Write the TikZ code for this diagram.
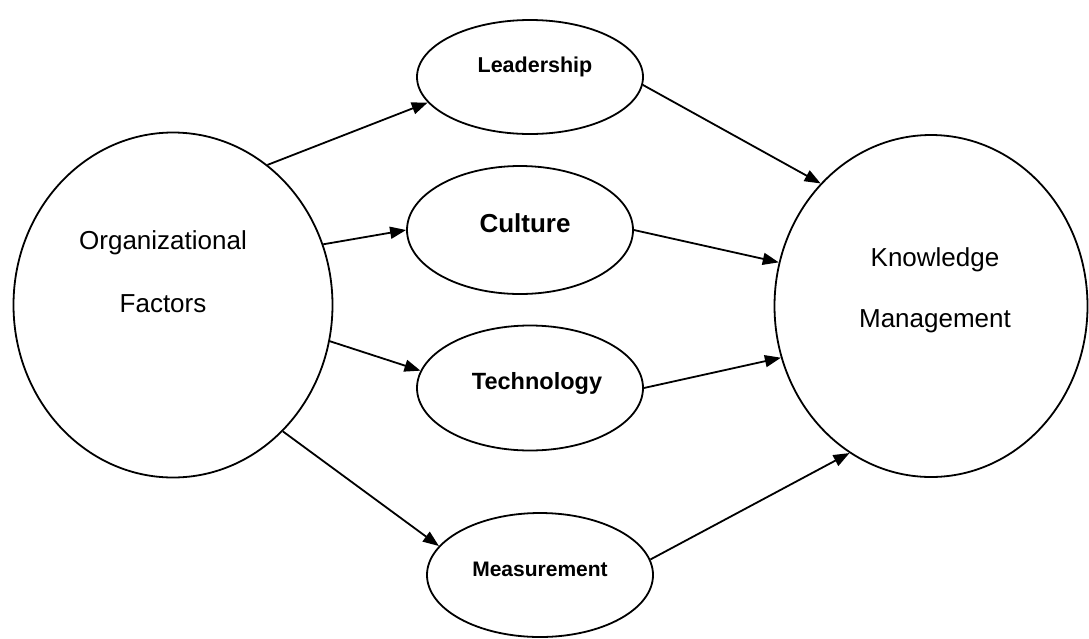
\documentclass[tikz,border=0pt]{standalone}
\usepackage{fontspec}
\setmainfont{Liberation Sans}
\usetikzlibrary{shapes.geometric,arrows.meta}

\begin{document}
\begin{tikzpicture}[x=1pt,y=-1pt,
  bubble/.style={draw,ellipse,line width=1.8pt,inner sep=0pt},
  link/.style={line width=1.8pt,-{Triangle[length=16pt,width=12pt]}},
  bigtxt/.style={anchor=base,font=\fontsize{26}{31}\selectfont},
  smalltxt/.style={anchor=base,font=\bfseries\fontsize{#1}{#1}\selectfont}]
\useasboundingbox (0,0) rectangle (1089,638);

% the two big ones
\node[bubble,minimum width=319pt,minimum height=345pt] (org) at (173,305) {};
\node[bubble,minimum width=313pt,minimum height=342pt] (km) at (931,306) {};
\node[bigtxt] (orgtop) at (163,249) {Organizational};
\node[bigtxt] (orgbot) at (163,312) {Factors};
\node[bigtxt] (kmtop) at (935,266) {Knowledge};
\node[bigtxt] (kmbot) at (935,327) {Management};

% the four in the middle
\node[bubble,minimum width=226pt,minimum height=114pt] (lead) at (530,77) {};
\node[bubble,minimum width=226pt,minimum height=128pt] (cult) at (520,230) {};
\node[bubble,minimum width=226pt,minimum height=125pt] (tech) at (530,388) {};
\node[bubble,minimum width=226pt,minimum height=124pt] (meas) at (540,575) {};
\node[smalltxt=21.5] (leadtxt) at (535,72) {Leadership};
\node[smalltxt=26] (culttxt) at (525,232) {Culture};
\node[smalltxt=23.5] (techtxt) at (537,389) {Technology};
\node[smalltxt=21] (meastxt) at (540,576) {Measurement};

% left side
\draw[link] (org.56) -- (lead.194);
\draw[link] (org.22) -- (cult.180);
\draw[link] (org.-13) -- (tech.171);
\draw[link] (org.-49) -- (meas.164);

% right side
\draw[link] (lead.-4) -- (km.132);
\draw[link] (cult.0) -- (km.164);
\draw[link] (tech.0) -- (km.199);
\draw[link] (meas.8) -- (km.241);
\end{tikzpicture}
\end{document}
